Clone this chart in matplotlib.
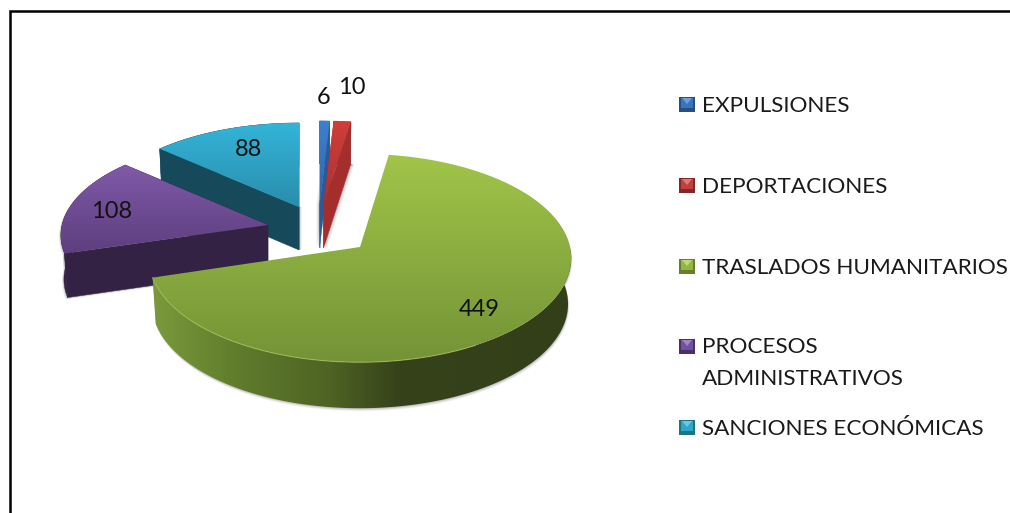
import numpy as np
import matplotlib
matplotlib.use("Agg")
import matplotlib.pyplot as plt
from matplotlib.colors import to_rgb
from matplotlib.patches import Polygon, Rectangle

# data
categories = ["EXPULSIONES", "DEPORTACIONES", "TRASLADOS HUMANITARIOS",
              "PROCESOS\nADMINISTRATIVOS", "SANCIONES ECONÓMICAS"]
values = [6, 10, 449, 108, 88]

# layout of the exploded slices, in pixels
apex_x = [319.5, 323.5, 360, 268, 299]
apex_y = [205, 205, 247, 225, 207]
radius_x = [200, 200, 210, 206, 201]
radius_y = [93, 93, 103, 96, 93]
depths = [43, 43, 46, 44, 43]
tilt = 0.106
wall_narrow = 0.985
shadow_shift = [(-3, 0), (3, 2), (1, 3), (-2, 2), (3, 0)]

# colours
top_light = ["#3d80d0", "#d03e3b", "#a0c548", "#8059a8", "#33b5d8"]
top_dark = ["#3064a8", "#a83230", "#749337", "#5e3e7e", "#2a8dac"]
wall_colour = ["#2c5a98", "#a32e2c", "#4e6324", "#332244", "#164a5a"]
bullet_base = ["#264f86", "#822826", "#64802f", "#4a3068", "#1f7188"]
bullet_mid = ["#3a74bd", "#c0403d", "#94b543", "#7350a0", "#2fa6c6"]
bullet_light = ["#6f9fd8", "#dc7a78", "#bcd878", "#a284c4", "#6cc8e0"]
green_wall_x = [150, 240, 330, 400, 570]
green_wall_c = ["#7b9b3b", "#5f7b2c", "#4e6324", "#35421a", "#333f18"]

label_x = [324, 352, 479, 112, 249]
label_y = [98, 88, 309, 212, 149]
legend_y = [105, 186, 267, 347, 428]

W, H = 1010, 513
fig = plt.figure(figsize=(W / 100, H / 100), dpi=100)
ax = fig.add_axes([0, 0, 1, 1])
plt.rcParams["font.family"] = ["Lato", "DejaVu Sans"]


def rim(i, a):
    s = 1 / (1 + tilt * np.cos(a))
    x = apex_x[i] + radius_x[i] * np.sin(a) * s
    y = apex_y[i] - radius_y[i] * np.cos(a) * s
    return x, y


def fill_gradient(points, c0, c1, zorder=1):
    # image clipped to the polygon, gives the shaded look of the 3D pie
    points = np.asarray(points)
    x0, y0 = points.min(axis=0)
    x1, y1 = points.max(axis=0)
    t = np.linspace(0, 1, 64)
    rgb = np.array([np.array(to_rgb(c0)) * (1 - v) + np.array(to_rgb(c1)) * v for v in t])
    im = ax.imshow(rgb[:, None, :], extent=(x0, x1, y1, y0), origin="upper", aspect="auto",
                   interpolation="bilinear", zorder=zorder)
    im.set_clip_path(Polygon(points, closed=True, transform=ax.transData))


fractions = np.cumsum([0] + values) / sum(values)
order = [4, 0, 1, 3, 2]

for z, i in enumerate(order):
    z0 = 2 + z * 4
    a = np.linspace(fractions[i] * 2 * np.pi, fractions[i + 1] * 2 * np.pi, 200)
    x, y = rim(i, a)
    d = depths[i]
    ax_pt = np.array([apex_x[i], apex_y[i]])
    arc = np.column_stack([x, y])
    low = np.column_stack([apex_x[i] + (x - apex_x[i]) * wall_narrow, y + d])
    band = np.vstack([arc, low[::-1]])
    face_a = np.array([ax_pt, arc[0], low[0], ax_pt + [0, d]])
    face_b = np.array([ax_pt, arc[-1], low[-1], ax_pt + [0, d]])

    # soft grey shadow under the walls
    clip = Rectangle((0, arc[:, 1].min() + d), W, H, transform=ax.transData)
    sx, sy = shadow_shift[i]
    for k, al in zip([1.0, 0.66, 0.33], [0.1, 0.16, 0.24]):
        for part in (band, face_a, face_b):
            p = Polygon(part + [sx * k, sy * k], fc="#777777", ec="none", alpha=al, zorder=z0)
            ax.add_patch(p)
            p.set_clip_path(clip)

    # walls
    if i == 2:
        keep = np.cos(a) < 0.35
        pts = np.vstack([arc[keep], low[keep][::-1]])
        xs = np.linspace(150, 572, 256)
        rgb = np.array([np.interp(xs, green_wall_x, [to_rgb(c)[j] for c in green_wall_c])
                        for j in range(3)]).T
        im = ax.imshow(rgb[None, :, :], extent=(150, 572, 420, 250), origin="upper",
                       aspect="auto", interpolation="bilinear", zorder=z0 + 1)
        im.set_clip_path(Polygon(pts, closed=True, transform=ax.transData))
    else:
        for part in (band, face_a, face_b):
            ax.add_patch(Polygon(part, fc=wall_colour[i], ec=wall_colour[i], lw=0.3, zorder=z0 + 1))

    # top surface
    fill_gradient(np.vstack([ax_pt, arc]), top_light[i], top_dark[i], zorder=z0 + 2)

    if i == 2:
        keep = (np.cos(a) < 0.1) & (np.sin(a) < 0.5)
        ax.plot(x[keep], y[keep], color="#a3c257", lw=0.8, alpha=0.7, zorder=z0 + 3)

    ax.text(label_x[i], label_y[i], str(values[i]), fontsize=17, color="#111111",
            ha="center", va="center", zorder=40)

# legend, small bevelled bullets
for i, name in enumerate(categories):
    yc = legend_y[i]
    ax.add_patch(Rectangle((679, yc - 8), 16, 15, fc=bullet_base[i], ec="none", zorder=41))
    ax.add_patch(Rectangle((681, yc - 7), 12, 10, fc=bullet_mid[i], ec="none", zorder=42))
    ax.add_patch(Polygon([(682, yc - 7), (692, yc - 7), (687, yc - 1)],
                         fc=bullet_light[i], ec="none", zorder=43))
    two_lines = "\n" in name
    ax.text(702, yc + 16 if two_lines else yc + 1, name, fontsize=16.2, color="#1a1a1a",
            ha="left", va="center", linespacing=1.7, zorder=43)

# frame, only the top and left sides are inside the picture
ax.plot([9.5, 9.5, W], [H, 11, 11], color="black", lw=1.8, solid_joinstyle="miter", zorder=50)

ax.set_xlim(0, W)
ax.set_ylim(H, 0)
ax.axis("off")
fig.savefig("out.png", dpi=100, facecolor="white")
